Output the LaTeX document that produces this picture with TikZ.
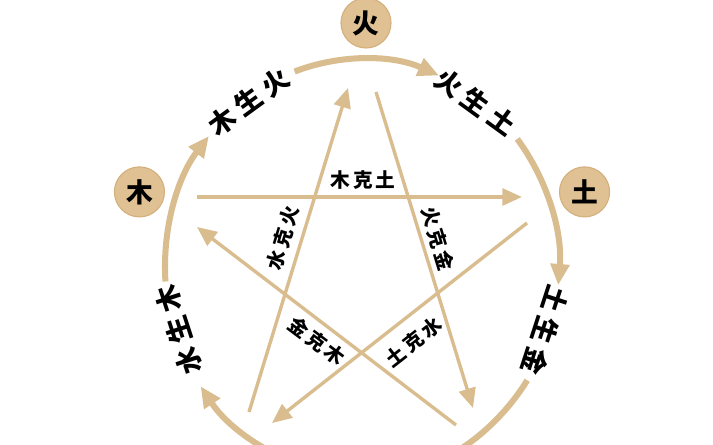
\documentclass[tikz,border=0pt]{standalone}
\usepackage{fontspec}
\newfontfamily\cjk{Noto Sans CJK SC}
\newfontfamily\cjkwide[LetterSpace=22]{Noto Sans CJK SC}
\newfontfamily\cjkmid[LetterSpace=16]{Noto Sans CJK SC}
\usepackage{xcolor}
\usetikzlibrary{arrows.meta,positioning,calc}
\definecolor{wxline}{RGB}{217,189,143}
\definecolor{wxfill}{RGB}{224,193,148}
\definecolor{wxedge}{RGB}{212,176,125}

\begin{document}
\begin{tikzpicture}[x=0.025cm,y=0.025cm,
  el/.style={circle,fill=wxfill,draw=wxedge,line width=0.8pt,minimum size=1.25cm,inner sep=0pt,%
    font=\cjk\bfseries\fontsize{19}{19}\selectfont},%
  sh/.style={inner sep=0pt,font=\cjkwide\bfseries\fontsize{19}{19}\selectfont},%
  ke/.style={inner sep=0pt,font=\cjkmid\bfseries\fontsize{14}{14}\selectfont},%
  ring/.style={line width=4.3pt,draw=wxline,-{Triangle[length=15pt,width=13pt,fill=wxline]}},%
  kl/.style={line width=2.4pt,draw=wxline,-{Triangle[length=14pt,width=12pt,fill=wxline]}},%
  ]
  \useasboundingbox (-362,-178) rectangle (351,267);
  \clip (-362,-178) rectangle (351,267);
  \fill[white] (-362,-178) rectangle (351,267);
  % elements
  \node (huo) [el] at (4,244) {火};
  \node (mu) [el] at (162:234 and 243) {木};
  \node (tu) [el] at (18:234 and 243) {土};
  % sheng cycle
  \foreach \s/\e in {110/67,38/-5,-33/-76,184/141,256/215}
    \draw [ring] (\s:197 and 208) arc [start angle=\s,end angle=\e,x radius=197,y radius=208];
  \foreach \a/\t [count=\i] in {126/木生火,54/火生土,-18/土生金,198/水生木}
    \node (s\i) [sh,rotate=\a-90] at (\a:193 and 204) {\t};
  % ke star
  \coordinate (mk0) at (-165,70);  \coordinate (mk1) at (160,70);
  \coordinate (sk0) at (-113,-145); \coordinate (sk1) at (-14,179);
  \coordinate (hk0) at (14,175);   \coordinate (hk1) at (111,-141);
  \coordinate (tk0) at (165,44);   \coordinate (tk1) at (-90,-156);
  \coordinate (jk0) at (94,-158);  \coordinate (jk1) at (-165,40);
  \draw [kl] (mk0) -- (mk1);
  \draw [kl] (sk0) -- (sk1);
  \draw [kl] (hk0) -- (hk1);
  \draw [kl] (tk0) -- (tk1);
  \draw [kl] (jk0) -- (jk1);
  \node (mkt) [ke] at (1,87) {木克土};
  \node (skh) [ke,rotate=73] at (-79,29) {水克火};
  \node (hkj) [ke,rotate=-73] at (76,28) {火克金};
  \node (jkm) [ke,rotate=-37] at (-45,-74) {金克木};
  \node (tks) [ke,rotate=38] at (52,-75) {土克水};
\end{tikzpicture}
\end{document}
